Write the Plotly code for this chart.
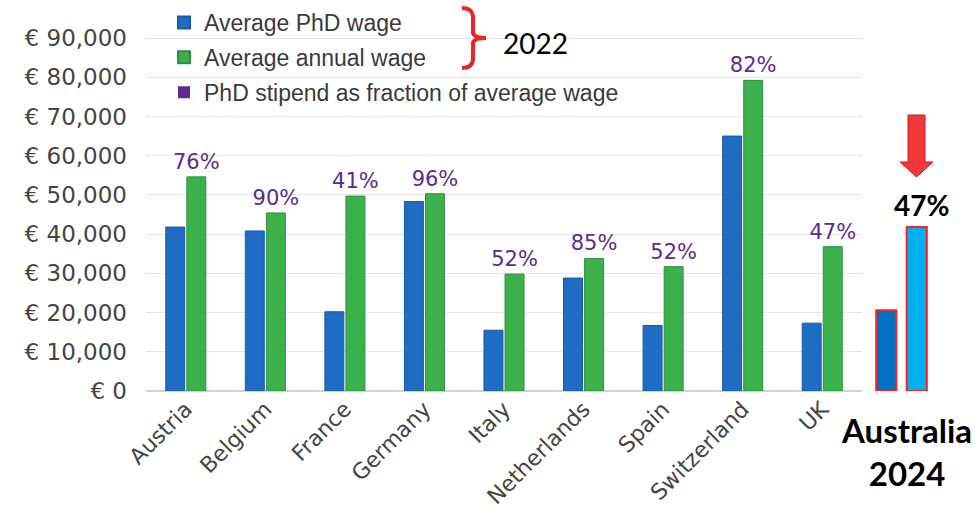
import plotly.graph_objects as go

# values (EUR)
countries = ["Austria", "Belgium", "France", "Germany", "Italy",
             "Netherlands", "Spain", "Switzerland", "UK"]
phd_wage = [41800, 40800, 20200, 48300, 15500, 28800, 16700, 65000, 17300]
annual_wage = [54600, 45400, 49700, 50300, 29800, 33800, 31700, 79200, 36800]
stipend_pct = [76, 90, 41, 96, 52, 85, 52, 82, 47]

au_labels = ["PhD stipend", "Average wage"]
au_values = [20600, 41800]
au_pct = 47

BLUE = "#1f6cc4"
GREEN = "#3bb04b"
PURPLE = "#5b2b90"
RED = "#e8262a"
FONT = "DejaVu Sans"

# plot area in pixels, used to place the decorations
W, H = 975, 524
L, R, T, B = 146, 935, 0, 391
YMAX = 90000 * (B - T) / (B - 38)   # keeps the 90k gridline at y=38


def px(x):
    return (x - L) / (R - L)


def py(y):
    return (B - y) / (B - T)


fig = go.Figure()

fig.add_trace(go.Bar(
    x=countries, y=phd_wage, name="Average PhD wage", legendgroup="a",
    marker=dict(color=BLUE, line=dict(color="#1a5aa6", width=1)),
))
fig.add_trace(go.Bar(
    x=countries, y=annual_wage, name="Average annual wage", legendgroup="b",
    marker=dict(color=GREEN, line=dict(color="#2f9140", width=1)),
    text=[f"{p}%" for p in stipend_pct], textposition="outside",
    textfont=dict(color=PURPLE, size=21, family=FONT),
    constraintext="none", cliponaxis=False, textangle=0,
))
# legend entry only
fig.add_trace(go.Scatter(
    x=[None], y=[None], mode="markers", legendgroup="c",
    name="PhD stipend as fraction of average wage",
    marker=dict(symbol="square", size=11, color=PURPLE),
))

# Australia 2024, drawn on its own axis to the right
fig.add_trace(go.Bar(
    x=au_labels, y=au_values, xaxis="x2", yaxis="y2", width=0.66,
    marker=dict(color=["#0070c0", "#00b0f0"], line=dict(color="#ff2020", width=2)),
    showlegend=False,
))

fig.update_layout(
    width=W, height=H,
    margin=dict(l=L, r=W - R, t=T, b=H - B),
    paper_bgcolor="white", plot_bgcolor="white",
    font=dict(family=FONT, color="#444444"),
    barmode="group", bargap=0.47, bargroupgap=0.1,
    legend=dict(
        x=px(164), y=py(1), xanchor="left", yanchor="top",
        bgcolor="rgba(0,0,0,0)",
        font=dict(size=23, color="#3a3a3a", family="Liberation Sans"),
        itemsizing="constant", tracegroupgap=2,
    ),
    xaxis=dict(
        domain=[0, px(862)], tickangle=-45, showgrid=False, showline=False,
        tickfont=dict(size=22, color="#444444"), ticks="", automargin=False,
    ),
    yaxis=dict(
        range=[0, YMAX], dtick=10000, tickprefix="€ ", tickformat=",d",
        gridcolor="#e6e6e6", gridwidth=1, zeroline=True, zerolinecolor="#d2d2d2",
        tickfont=dict(size=23, color="#444444"), ticks="", ticklabelstandoff=18,
        automargin=False,
    ),
    xaxis2=dict(
        domain=[px(871), px(932)], anchor="y2", showticklabels=False,
        showgrid=False, showline=False, zeroline=False, automargin=False,
    ),
    yaxis2=dict(
        domain=[0, 1], anchor="x2", range=[0, YMAX], visible=False,
    ),
)

# red bracket next to the first two legend rows
bracket = (
    f"M {px(462)},{py(8)} Q {px(472)},{py(8)} {px(473)},{py(16)} "
    f"L {px(473)},{py(33)} Q {px(474)},{py(38)} {px(486)},{py(38)} "
    f"Q {px(474)},{py(38)} {px(473)},{py(43)} "
    f"L {px(473)},{py(60)} Q {px(472)},{py(68)} {px(462)},{py(68)}"
)
fig.add_shape(type="path", path=bracket, xref="paper", yref="paper",
              line=dict(color=RED, width=4))

# red down arrow above Australia
arrow = (
    f"M {px(908)},{py(115)} L {px(925)},{py(115)} L {px(925)},{py(162)} "
    f"L {px(933)},{py(162)} L {px(916.5)},{py(177)} L {px(900)},{py(162)} "
    f"L {px(908)},{py(162)} Z"
)
fig.add_shape(type="path", path=arrow, xref="paper", yref="paper",
              fillcolor="#f0383b", line=dict(color="#c81e22", width=1))

notes = dict(xref="paper", yref="paper", showarrow=False,
             xanchor="center", yanchor="middle")
fig.add_annotation(x=px(535), y=py(43), text="2022",
                   font=dict(family="Lato", size=28, color="black"), **notes)
fig.add_annotation(x=px(921), y=py(205), text=f"<b>{au_pct}%</b>",
                   font=dict(family="Lato", size=28, color="black"), **notes)
fig.add_annotation(x=px(906), y=py(451), text="<b>Australia</b><br><b>2024</b>",
                   font=dict(family="Lato", size=33, color="black"), **notes)

fig.write_html("out.html", config={"displayModeBar": False},
               post_script="document.body.style.margin='0';")
